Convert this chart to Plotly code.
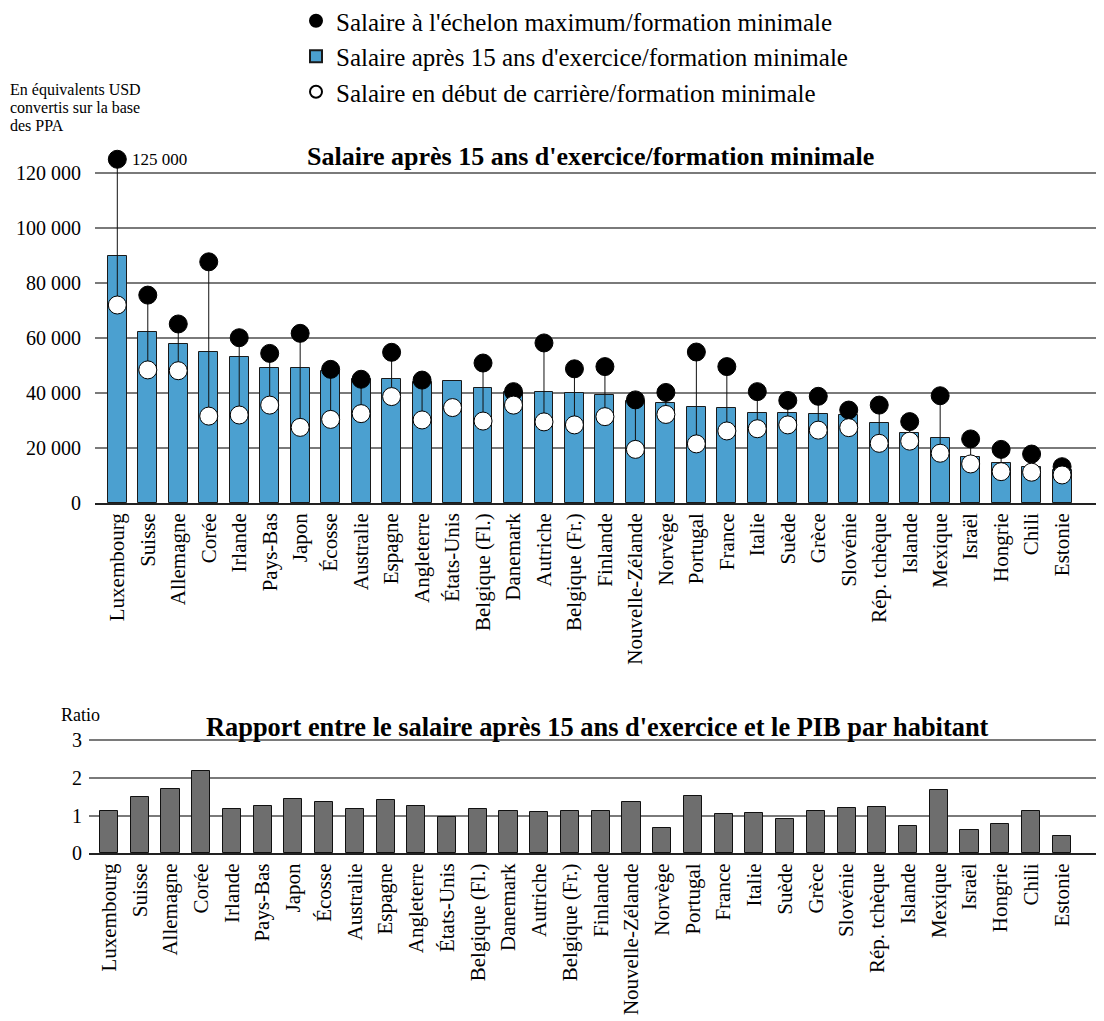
import plotly.graph_objects as go

pays = ["Luxembourg", "Suisse", "Allemagne", "Corée", "Irlande", "Pays-Bas", "Japon",
        "Écosse", "Australie", "Espagne", "Angleterre", "États-Unis", "Belgique (Fl.)",
        "Danemark", "Autriche", "Belgique (Fr.)", "Finlande", "Nouvelle-Zélande", "Norvège",
        "Portugal", "France", "Italie", "Suède", "Grèce", "Slovénie", "Rép. tchèque",
        "Islande", "Mexique", "Israël", "Hongrie", "Chili", "Estonie"]

# salaires en équivalents USD (PPA)
salaire_15ans = [90000, 62300, 58000, 54800, 53100, 49000, 49000, 48000, 45000, 45000,
                 44000, 44200, 41700, 40500, 40500, 40100, 39200, 37000, 36400, 35000,
                 34400, 32900, 32900, 32200, 32000, 29200, 25300, 23500, 16600, 14700,
                 13100, 12000]
salaire_max = [125000, 75600, 65100, 87700, 60100, 54400, 61700, 48600, 45000, 54800,
               44700, None, 50900, 40500, 58200, 48800, 49600, 37500, 40200, 54900,
               49600, 40500, 37300, 38800, 33800, 35600, 29600, 39000, 23300, 19500,
               17800, 13200]
salaire_min = [72000, 48400, 48100, 31600, 32000, 35600, 27500, 30400, 32500, 38700,
               30200, 34700, 29800, 35600, 29500, 28400, 31400, 19500, 32200, 21500,
               26200, 27000, 28400, 26500, 27400, 21700, 22500, 18100, 14200, 11400,
               11200, 10200]
ratio_pib = [1.13, 1.50, 1.69, 2.19, 1.17, 1.24, 1.45, 1.37, 1.18, 1.41, 1.24, 0.96,
             1.17, 1.12, 1.09, 1.12, 1.13, 1.36, 0.68, 1.52, 1.03, 1.08, 0.90, 1.13,
             1.19, 1.22, 0.71, 1.67, 0.63, 0.77, 1.11, 0.46]

FONT = "Liberation Serif"
# la page html ajoute une marge de 8 px autour du graphique
OFF = 8
W, H = 1104 - OFF, 1021 - OFF
BLEU = "#4ba0d0"
GRIS = "#6e6e6e"

def px_x(p):
    return (p - OFF) / W

def px_y(p):
    return 1 - (p - OFF) / H

fig = go.Figure()

fig.add_trace(go.Bar(
    x=pays, y=salaire_15ans, width=0.62,
    marker=dict(color=BLEU, line=dict(color="#1a1a1a", width=1)),
    name="Salaire après 15 ans d'exercice/formation minimale",
    legendrank=2, xaxis="x", yaxis="y"))

# traits entre début de carrière et échelon maximum
lx, ly = [], []
for p, lo, hi in zip(pays, salaire_min, salaire_max):
    if hi is None:
        continue
    lx += [p, p, None]
    ly += [lo, hi, None]
fig.add_trace(go.Scatter(x=lx, y=ly, mode="lines", line=dict(color="#111111", width=1),
                         showlegend=False, hoverinfo="skip", xaxis="x", yaxis="y"))

fig.add_trace(go.Scatter(
    x=pays, y=salaire_max, mode="markers",
    marker=dict(color="black", size=18, line=dict(color="black", width=1)),
    name="Salaire à l'échelon maximum/formation minimale",
    legendrank=1, xaxis="x", yaxis="y"))

fig.add_trace(go.Scatter(
    x=pays, y=salaire_min, mode="markers",
    marker=dict(color="white", size=18, line=dict(color="black", width=1)),
    name="Salaire en début de carrière/formation minimale",
    legendrank=3, xaxis="x", yaxis="y"))

fig.add_trace(go.Bar(
    x=pays, y=ratio_pib, width=0.59,
    marker=dict(color=GRIS, line=dict(color="#111111", width=1)),
    showlegend=False, xaxis="x2", yaxis="y2"))

# échelle : 0 à 503 px, 120 000 à 173 px
haut_y1 = 120000 * (503 - 145) / (503 - 173)
haut_y2 = 3 * (853.3 - 738) / (853.3 - 740)

axe_x = dict(type="category", tickangle=-90, showgrid=False, showline=True,
             linecolor="#222222", linewidth=1.5, ticks="", automargin=False,
             tickfont=dict(family=FONT, size=21, color="black"))
axe_y = dict(showline=False, zeroline=False, showgrid=True, gridcolor="#7a7a7a",
             gridwidth=1.5, ticks="", automargin=False,
             tickfont=dict(family=FONT, size=20, color="black"))

fig.update_layout(
    width=W, height=H,
    margin=dict(l=0, r=0, t=0, b=0, autoexpand=False),
    plot_bgcolor="white", paper_bgcolor="white",
    separators=", ",
    bargap=0,
    font=dict(family=FONT, color="black"),
    xaxis=dict(axe_x, domain=[px_x(95), px_x(1102)], range=[-0.732, 32.31], anchor="y"),
    yaxis=dict(axe_y, domain=[px_y(503), px_y(145)], range=[0, haut_y1],
               tickvals=[0, 20000, 40000, 60000, 80000, 100000, 120000], tickformat=",",
               ticklabelstandoff=13, anchor="x"),
    xaxis2=dict(axe_x, domain=[px_x(89), px_x(1102)], range=[-0.651, 32.31], anchor="y2"),
    yaxis2=dict(axe_y, domain=[px_y(853.3), px_y(738)], range=[0, haut_y2],
                tickvals=[0, 1, 2, 3], ticklabelstandoff=6, anchor="x2"),
    legend=dict(x=px_x(296), y=px_y(-2), xanchor="left", yanchor="top",
                font=dict(family=FONT, size=25, color="black"),
                itemsizing="constant", traceorder="normal", bgcolor="rgba(0,0,0,0)"),
    showlegend=True,
)

annots = [
    dict(text="<b>Salaire après 15 ans d'exercice/formation minimale</b>", x=px_x(590), y=px_y(157),
         font=dict(size=26)),
    dict(text="<b>Rapport entre le salaire après 15 ans d'exercice et le PIB par habitant</b>",
         x=px_x(597), y=px_y(727), font=dict(size=26.4)),
    dict(text="125 000", x=px_x(130), y=px_y(159), xanchor="left", font=dict(size=17)),
    dict(text="En équivalents USD", x=px_x(8), y=px_y(90), xanchor="left", font=dict(size=16)),
    dict(text="convertis sur la base", x=px_x(8), y=px_y(108), xanchor="left", font=dict(size=16)),
    dict(text="des PPA", x=px_x(8), y=px_y(126), xanchor="left", font=dict(size=16)),
    dict(text="Ratio", x=px_x(59), y=px_y(715), xanchor="left", font=dict(size=18)),
]
for a in annots:
    a.setdefault("xanchor", "center")
    fig.add_annotation(xref="paper", yref="paper", showarrow=False, yanchor="middle",
                       font_family=FONT, font_color="black", **a)

fig.write_html("out.html")
